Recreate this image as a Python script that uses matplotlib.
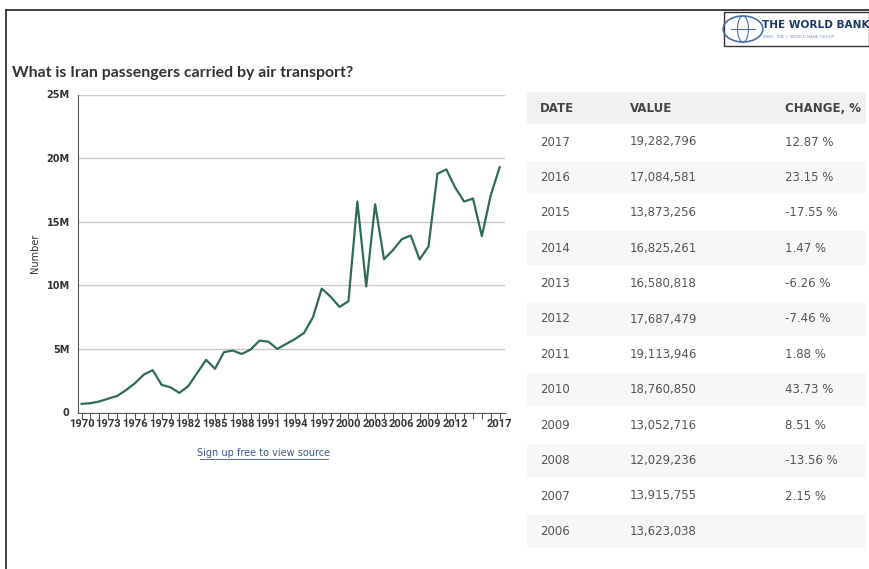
import matplotlib.pyplot as plt
from matplotlib.patches import Rectangle, Circle, Ellipse
from matplotlib.ticker import FuncFormatter

W, H = 869, 569

years = list(range(1970, 2018))
passengers = [
    680000, 730000, 870000, 1090000, 1300000, 1760000, 2300000, 2980000,
    3330000, 2170000, 1980000, 1540000, 2080000, 3110000, 4140000, 3440000,
    4740000, 4870000, 4600000, 4950000, 5650000, 5570000, 5000000, 5390000,
    5780000, 6250000, 7470000, 9740000, 9100000, 8300000, 8740000, 16580000,
    9920000, 16370000, 12050000, 12760000,
    13623038, 13915755, 12029236, 13052716, 18760850, 19113946,
    17687479, 16580818, 16825261, 13873256, 17084581, 19282796,
]
tick_years = [1970, 1973, 1976, 1979, 1982, 1985, 1988, 1991, 1994, 1997,
              2000, 2003, 2006, 2009, 2012, 2017]
y_ticks = [0, 5e6, 10e6, 15e6, 20e6, 25e6]

table_years = list(range(2017, 2005, -1))
table_changes = ["12.87 %", "23.15 %", "-17.55 %", "1.47 %", "-6.26 %", "-7.46 %",
                 "1.88 %", "43.73 %", "8.51 %", "-13.56 %", "2.15 %", ""]

TITLE = "What is Iran passengers carried by air transport?"


def fx(x):
    return x / W


def fy(y):
    return 1 - y / H


def fmt_m(v, pos):
    if v == 0:
        return "0"
    return "%dM" % (v / 1e6)


fig = plt.figure(figsize=(W / 100, H / 100), dpi=100)

# outer frame lines
fig.add_artist(plt.Line2D([fx(6), 1], [fy(10), fy(10)], color="#333333", lw=1.3))
fig.add_artist(plt.Line2D([fx(6), fx(6)], [fy(10), 0], color="#333333", lw=1.3))

# logo box
fig.add_artist(Rectangle((fx(724), fy(46)), fx(869) - fx(724), fy(12) - fy(46),
                         transform=fig.transFigure, fill=False, ec="#333333", lw=1))
fig.add_artist(Circle((fx(743), fy(29)), 13 / H, transform=fig.transFigure,
                      fill=False, ec="#4a6fa5", lw=1.2))
fig.add_artist(Ellipse((fx(743), fy(29)), 11 / W, 26 / H, transform=fig.transFigure,
                       fill=False, ec="#4a6fa5", lw=0.8))
fig.add_artist(plt.Line2D([fx(731), fx(755)], [fy(29), fy(29)], color="#4a6fa5", lw=0.8))
fig.text(fx(762), fy(25), "THE WORLD BANK", fontsize=7.6, fontweight="bold",
         color="#1f3a66", va="center", ha="left")
fig.text(fx(763), fy(37), "IBRD · IDA  |  WORLD BANK GROUP", fontsize=3,
         color="#7f93b8", va="center", ha="left")

fig.text(fx(12), fy(73), TITLE, fontsize=11.4, fontweight="bold", color="#333333",
         family="Lato", va="center", ha="left")

ax = fig.add_axes([fx(78), fy(412.5), fx(505) - fx(78), fy(94.5) - fy(412.5)])
ax.plot(years, passengers, color="#2f6b55", lw=1.6)
ax.set_xlim(1969.6, 2017.6)
ax.set_ylim(0, 25e6)
ax.set_yticks(y_ticks)
ax.yaxis.set_major_formatter(FuncFormatter(fmt_m))
ax.set_xticks(years, minor=True)
ax.set_xticks(tick_years)
ax.set_xticklabels([str(y) for y in tick_years])
ax.grid(axis="y", color="#c8c8c8", lw=1)
ax.set_axisbelow(True)
for s in ["top", "right"]:
    ax.spines[s].set_visible(False)
ax.spines["left"].set_color("#555555")
ax.spines["bottom"].set_color("#555555")
ax.tick_params(axis="x", which="both", length=4, width=0.8, color="#555555",
               labelsize=8, labelcolor="#333333", pad=1)
ax.tick_params(axis="y", length=0, labelsize=7, labelcolor="#333333", pad=6)
for lab in ax.get_xticklabels():
    lab.set_fontweight("bold")
    lab.set_family("Roboto")
for lab in ax.get_yticklabels():
    lab.set_fontweight("bold")
ax.set_ylabel("Number", fontsize=7, color="#333333", labelpad=5)

fig.text(fx(264), fy(453), "Sign up free to view source", fontsize=7,
         color="#3b5a8a", ha="center", va="center")
fig.add_artist(plt.Line2D([fx(200), fx(328)], [fy(459), fy(459)], color="#3b5a8a", lw=0.6))

# table
row_h = 35.4
tx0, tx1 = 527, 866
header_y = 108
fig.add_artist(Rectangle((fx(tx0), fy(header_y + 16)), fx(tx1) - fx(tx0), 32 / H,
                         transform=fig.transFigure, color="#f1f1f0", lw=0))
for txt, x in [("DATE", 540), ("VALUE", 630), ("CHANGE, %", 785)]:
    fig.text(fx(x), fy(header_y), txt, fontsize=8.5, fontweight="bold",
             color="#444444", ha="left", va="center")
tvals = dict(zip(years, passengers))
for i, yr in enumerate(table_years):
    yc = 142 + i * row_h
    if i % 2 == 1:
        fig.add_artist(Rectangle((fx(tx0), fy(yc + row_h / 2 - 1)), fx(tx1) - fx(tx0),
                                 (row_h - 2) / H, transform=fig.transFigure,
                                 color="#f7f7f7", lw=0))
    fig.text(fx(540), fy(yc), str(yr), fontsize=8.5, color="#555555", va="center")
    fig.text(fx(630), fy(yc), "{:,}".format(tvals[yr]), fontsize=8.5,
             color="#555555", va="center")
    fig.text(fx(785), fy(yc), table_changes[i], fontsize=8.5, color="#555555",
             va="center")

fig.savefig("out.png", dpi=100)
